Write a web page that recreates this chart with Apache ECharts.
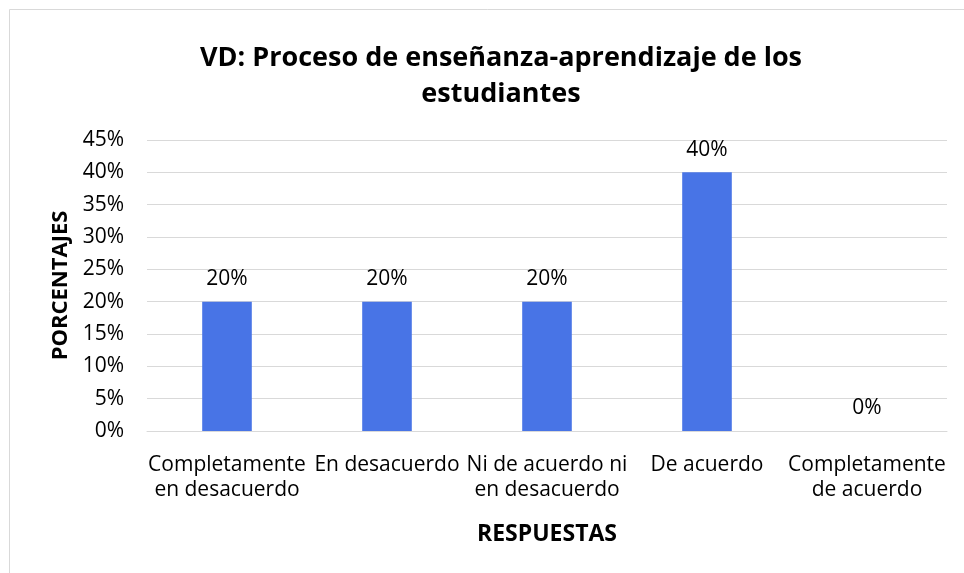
<!DOCTYPE html>
<html><head><meta charset="utf-8">
<script src="https://cdn.jsdelivr.net/npm/echarts@6/dist/echarts.min.js"></script>
<style>html,body{margin:0;padding:0;background:#fff}#c{width:964px;height:573px}</style>
</head><body><div id="c"></div>
<script>
const categories = ["Completamente\nen desacuerdo", "En desacuerdo", "Ni de acuerdo ni\nen desacuerdo", "De acuerdo", "Completamente\nde acuerdo"];
const values = [20, 20, 20, 40, 0];
const titleLines = ['VD: Proceso de enseñanza-aprendizaje de los', 'estudiantes'];
const FONT = "'Open Sans', sans-serif";
const chart = echarts.init(document.getElementById('c'));
chart.setOption({
  backgroundColor: '#fff',
  animation: false,
  textStyle: {fontFamily: FONT},
  graphic: [
    {type: 'rect', shape: {x: 9.5, y: 9.5, width: 980, height: 600}, style: {fill: 'none', stroke: '#d9d9d9', lineWidth: 1}, silent: true},
    {type: 'text', x: 501, y: 40, style: {text: titleLines.join('\n'), align: 'center', verticalAlign: 'top', font: "bold 27px 'Open Sans', sans-serif", lineHeight: 36, fill: '#000'}, silent: true}
  ],
  grid: {left: 147, right: 17, top: 140, bottom: 142, containLabel: false},
  xAxis: {
    type: 'category', data: categories,
    name: 'RESPUESTAS', nameLocation: 'middle', nameGap: 92,
    nameTextStyle: {fontFamily: FONT, fontSize: 23, fontWeight: 'bold', color: '#000'},
    axisLine: {lineStyle: {color: '#d9d9d9', width: 1}},
    axisTick: {show: false},
    axisLabel: {interval: 0, fontFamily: FONT, fontSize: 21, color: '#000', lineHeight: 25, margin: 22},
  },
  yAxis: {
    type: 'value', min: 0, max: 45, interval: 5,
    name: 'PORCENTAJES', nameLocation: 'middle', nameGap: 75, nameRotate: 90,
    nameTextStyle: {fontFamily: FONT, fontSize: 22, fontWeight: 'bold', color: '#000'},
    axisLine: {show: false}, axisTick: {show: false},
    axisLabel: {formatter: '{value}%', fontFamily: FONT, fontSize: 21, color: '#000', margin: 23},
    splitLine: {lineStyle: {color: '#d9d9d9', width: 1}}
  },
  series: [{
    type: 'bar', data: values, barWidth: '31%',
    itemStyle: {color: '#4874E6'},
    label: {show: true, position: 'top', distance: 12, formatter: '{c}%', fontFamily: FONT, fontSize: 21, color: '#000'}
  }]
});
</script></body></html>
